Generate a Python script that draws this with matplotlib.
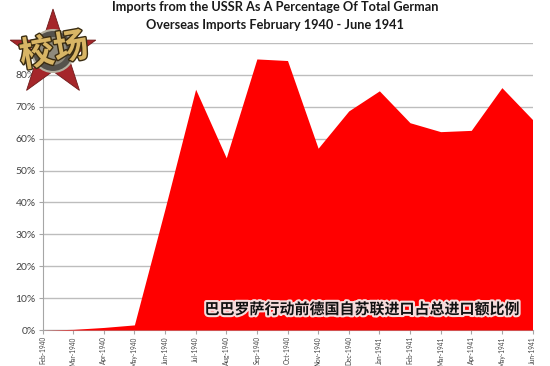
import numpy as np
import matplotlib
matplotlib.use("Agg")
import matplotlib.pyplot as plt
import matplotlib.patheffects as pe
from matplotlib.patches import Polygon, Circle

months = ["Feb-1940","Mar-1940","Apr-1940","May-1940","Jun-1940","Jul-1940","Aug-1940","Sep-1940",
          "Oct-1940","Nov-1940","Dec-1940","Jan-1941","Feb-1941","Mar-1941","Apr-1941","May-1941","Jun-1941"]
share = [0, 0.2, 0.8, 1.6, 38, 75.5, 54, 85, 84.5, 57, 68.7, 75, 65, 62.2, 62.6, 76, 66]
yticks = [0,10,20,30,40,50,60,70,80,90]
ylabels = ["0%","10%","20%","30%","40%","50%","60%","70%","80%","" ]
title_lines = ["Imports from the USSR As A Percentage Of Total German",
               "Overseas Imports February 1940 - June 1941"]
caption = "巴巴罗萨行动前德国自苏联进口占总进口额比例"
logo_text = "校场"

W, H = 550, 366
fig = plt.figure(figsize=(W/100, H/100), dpi=100)
ax = fig.add_axes([42.5/W, 1-330/H, 490/W, (330-43)/H])
x = np.arange(len(months))
ax.set_xlim(0, len(months)-1)
ax.set_ylim(0, 90)
ax.set_axisbelow(True)
ax.yaxis.grid(True, color="#bdbdbd", lw=1.0)
ax.fill_between(x, share, 0, color="#ff0000", lw=0, zorder=3)
for s in ["top","right"]:
    ax.spines[s].set_visible(False)
for s in ["left","bottom"]:
    ax.spines[s].set_color("#a6a6a6")
    ax.spines[s].set_linewidth(0.8)
ax.set_yticks(yticks)
ax.set_yticklabels(ylabels, fontsize=7.5, color="#444444", family="Lato")
ax.set_xticks(x)
ax.set_xticklabels(months, rotation=90, fontsize=4.7, color="#444444", family="Lato", ha="center", va="top")
ax.tick_params(axis="both", length=3, width=0.8, color="#a6a6a6", pad=2)
ax.tick_params(axis="x", pad=1.5)

fig.text(275/W, 1-7/H, title_lines[0], ha="center", va="center", fontsize=9.2, fontweight="bold", family="Lato", color="#1a1a1a")
fig.text(275/W, 1-25/H, title_lines[1], ha="center", va="center", fontsize=9.2, fontweight="bold", family="Lato", color="#1a1a1a")

fig.text(362/W, 1-309/H, caption, ha="center", va="center", fontsize=10.8, fontweight="bold",
         family=["Noto Sans CJK SC","DejaVu Sans"], color="#111111", zorder=10,
         path_effects=[pe.withStroke(linewidth=3, foreground="#f7dcdc")])

# logo: star emblem
ov = fig.add_axes([0, 0, 1, 1], facecolor="none")
ov.set_xlim(0, W); ov.set_ylim(H, 0); ov.axis("off")
cx, cy, R = 53, 54, 45
ang = np.deg2rad(-90 + 36*np.arange(10))
rad = np.where(np.arange(10) % 2 == 0, R, R*0.382)
ov.add_patch(Polygon(np.c_[cx+rad*np.cos(ang), cy+rad*np.sin(ang)], fc="#a5262a", ec="#6e1a1a", lw=0.6))
ov.add_patch(Circle((cx, cy-3), 21, fc="#55524c", ec="#b5b0a0", lw=1.5))
ov.add_patch(Circle((cx, cy-3), 14, fc="#8f8a7c", ec="none"))
ov.text(cx+1, cy-3, logo_text, ha="center", va="center", fontsize=25, fontweight="bold",
        family=["Noto Sans CJK SC","DejaVu Sans"], color="#d8b565", rotation=10,
        path_effects=[pe.withStroke(linewidth=2, foreground="#3a2c12")])

fig.savefig("out.png", dpi=100)
